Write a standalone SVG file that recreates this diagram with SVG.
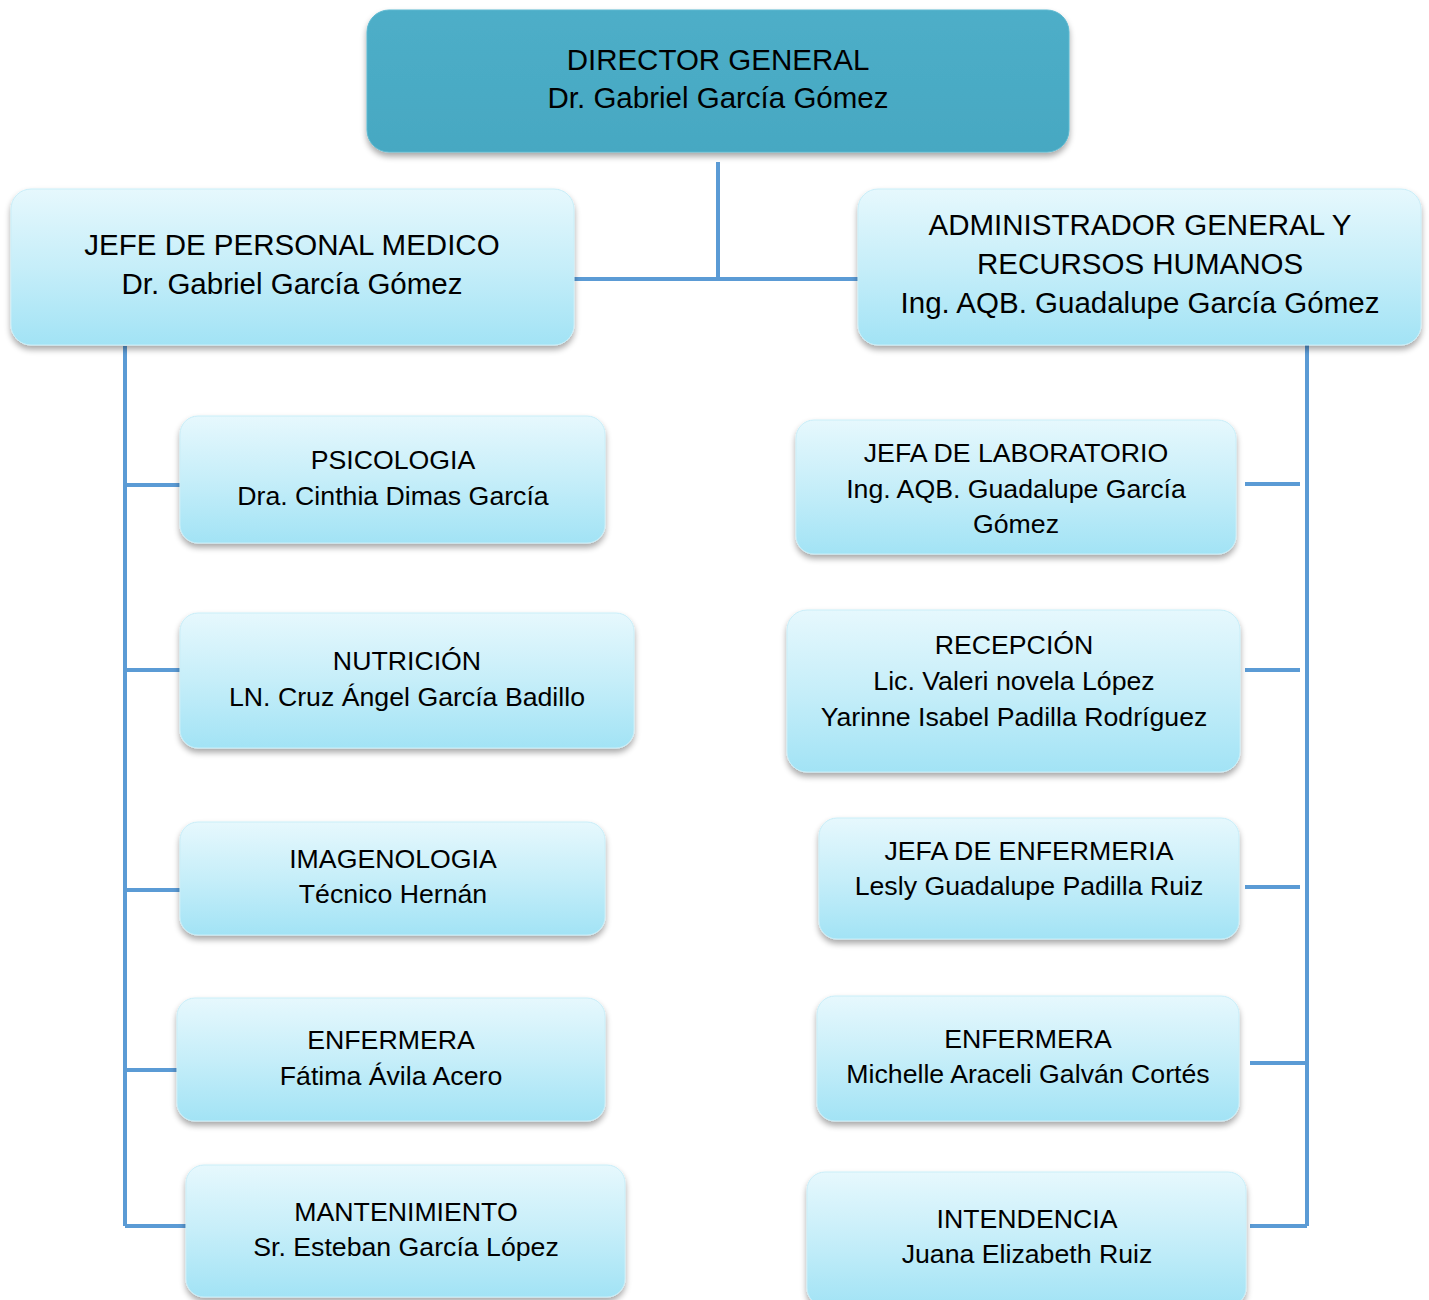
<svg xmlns="http://www.w3.org/2000/svg" width="1429" height="1300" viewBox="0 0 1429 1300">
<defs>
<linearGradient id="lb" x1="0" y1="0" x2="0" y2="1">
<stop offset="0" stop-color="#e6f8fd"/>
<stop offset="0.5" stop-color="#c6eef9"/>
<stop offset="1" stop-color="#a2e3f5"/>
</linearGradient>
<linearGradient id="db" x1="0" y1="0" x2="0" y2="1">
<stop offset="0" stop-color="#4eaec8"/>
<stop offset="1" stop-color="#46a8c2"/>
</linearGradient>
<filter id="sh" x="-5%" y="-10%" width="110%" height="130%">
<feGaussianBlur in="SourceAlpha" stdDeviation="3"/>
<feOffset dx="0" dy="4" result="b"/>
<feComponentTransfer><feFuncA type="linear" slope="0.35"/></feComponentTransfer>
<feMerge><feMergeNode/><feMergeNode in="SourceGraphic"/></feMerge>
</filter>
</defs>
<style>
.box{fill:url(#lb);stroke:#c9eef8;stroke-width:1;filter:url(#sh)}
.top{fill:url(#db);stroke:#5ab8d0;stroke-width:1;filter:url(#sh)}
text{font-family:"Liberation Sans",Arial,sans-serif;fill:#000;text-anchor:middle}
.t1{font-size:29.5px}
.t2{font-size:26.7px}
.conn{stroke:#5b9bd5;stroke-width:4;fill:none}
</style>
<g id="connectors">
<path class="conn" d="M718 162V279M572 279H862"/>
<path class="conn" d="M125 346V1226M125 485H180M125 670H182M125 890H180M125 1070H177M125 1226H186"/>
<path class="conn" d="M1307 343V1226M1245 484H1300M1245 670H1300M1245 887H1300M1250 1063H1307M1250 1226H1307"/>
</g>
<g id="director">
<rect class="top" x="367" y="10" width="702" height="142" rx="22"/>
<text class="t1" x="718" y="70">DIRECTOR GENERAL</text>
<text class="t1" x="718" y="108">Dr. Gabriel García Gómez</text>
</g>
<g id="jefe-personal-medico">
<rect class="box" x="11" y="189" width="563" height="156" rx="20"/>
<text class="t1" x="292" y="255">JEFE DE PERSONAL MEDICO</text>
<text class="t1" x="292" y="294">Dr. Gabriel García Gómez</text>
</g>
<g id="administrador">
<rect class="box" x="858" y="189" width="563" height="156" rx="20"/>
<text class="t1" x="1140" y="235">ADMINISTRADOR GENERAL Y</text>
<text class="t1" x="1140" y="274">RECURSOS HUMANOS</text>
<text class="t1" x="1140" y="313">Ing. AQB. Guadalupe García Gómez</text>
</g>
<g id="psicologia">
<rect class="box" x="180" y="416" width="425" height="127" rx="18"/>
<text class="t2" x="393" y="469">PSICOLOGIA</text>
<text class="t2" x="393" y="505">Dra. Cinthia Dimas García</text>
</g>
<g id="nutricion">
<rect class="box" x="180" y="613" width="454" height="135" rx="18"/>
<text class="t2" x="407" y="670">NUTRICIÓN</text>
<text class="t2" x="407" y="706">LN. Cruz Ángel García Badillo</text>
</g>
<g id="imagenologia">
<rect class="box" x="180" y="822" width="425" height="113" rx="18"/>
<text class="t2" x="393" y="868">IMAGENOLOGIA</text>
<text class="t2" x="393" y="903">Técnico Hernán</text>
</g>
<g id="enfermera-izq">
<rect class="box" x="177" y="998" width="428" height="123" rx="18"/>
<text class="t2" x="391" y="1049">ENFERMERA</text>
<text class="t2" x="391" y="1085">Fátima Ávila Acero</text>
</g>
<g id="mantenimiento">
<rect class="box" x="186" y="1165" width="439" height="132" rx="18"/>
<text class="t2" x="406" y="1221">MANTENIMIENTO</text>
<text class="t2" x="406" y="1256">Sr. Esteban García López</text>
</g>
<g id="jefa-laboratorio">
<rect class="box" x="796" y="420" width="440" height="134" rx="18"/>
<text class="t2" x="1016" y="462">JEFA DE LABORATORIO</text>
<text class="t2" x="1016" y="498">Ing. AQB. Guadalupe García</text>
<text class="t2" x="1016" y="533">Gómez</text>
</g>
<g id="recepcion">
<rect class="box" x="787" y="610" width="453" height="162" rx="20"/>
<text class="t2" x="1014" y="654">RECEPCIÓN</text>
<text class="t2" x="1014" y="690">Lic. Valeri novela López</text>
<text class="t2" x="1014" y="726">Yarinne Isabel Padilla Rodríguez</text>
</g>
<g id="jefa-enfermeria">
<rect class="box" x="819" y="818" width="420" height="121" rx="18"/>
<text class="t2" x="1029" y="860">JEFA DE ENFERMERIA</text>
<text class="t2" x="1029" y="895">Lesly Guadalupe Padilla Ruiz</text>
</g>
<g id="enfermera-der">
<rect class="box" x="817" y="996" width="422" height="125" rx="18"/>
<text class="t2" x="1028" y="1048">ENFERMERA</text>
<text class="t2" x="1028" y="1083">Michelle Araceli Galván Cortés</text>
</g>
<g id="intendencia">
<rect class="box" x="807" y="1172" width="439" height="134" rx="18"/>
<text class="t2" x="1027" y="1228">INTENDENCIA</text>
<text class="t2" x="1027" y="1263">Juana Elizabeth Ruiz</text>
</g>
</svg>
